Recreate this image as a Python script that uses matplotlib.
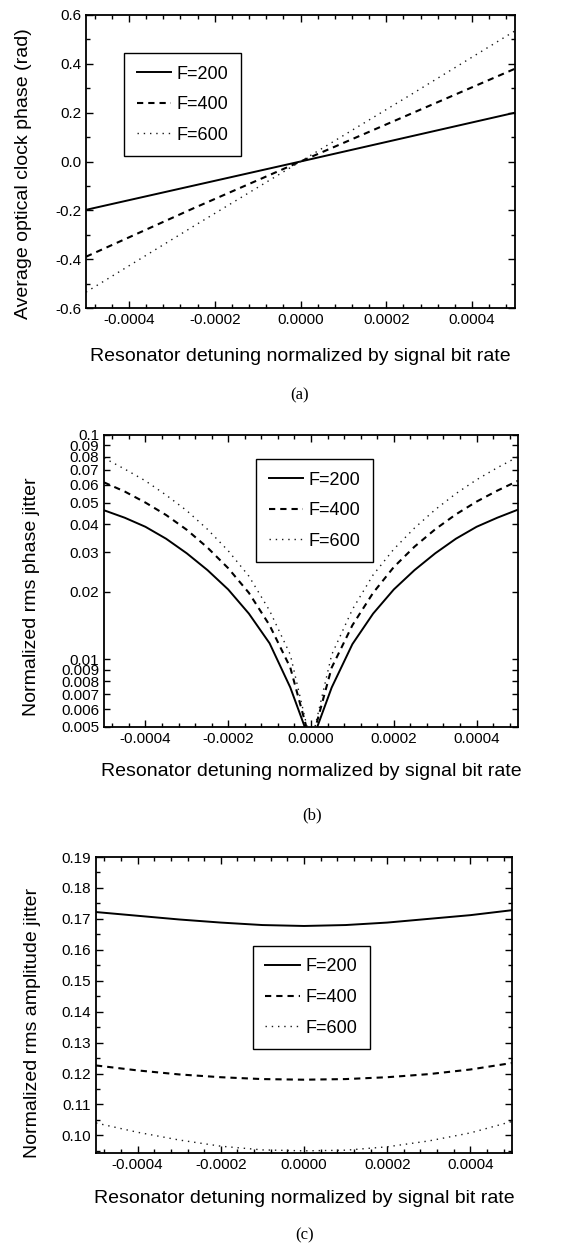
import matplotlib
matplotlib.use("Agg")
import matplotlib.pyplot as plt
from matplotlib.ticker import MultipleLocator, FixedLocator, FixedFormatter, NullFormatter

plt.rcParams['font.family'] = ['Liberation Sans', 'DejaVu Sans']

# ---------------- data ----------------
labels = ["F=200", "F=400", "F=600"]

# (a) average optical clock phase (rad)
xa = [-0.0005, -0.00025, 0.0, 0.00025, 0.0005]
a_f200 = [-0.198, -0.099, 0.0, 0.100, 0.200]
a_f400 = [-0.390, -0.192, 0.0, 0.190, 0.380]
a_f600 = [-0.535, -0.266, 0.0, 0.266, 0.535]

# (b) normalized rms phase jitter (log scale)
xb = [-0.0005, -0.00045, -0.0004, -0.00035, -0.0003, -0.00025, -0.0002, -0.00015,
      -0.0001, -0.00005, 0.0, 0.00005, 0.0001, 0.00015, 0.0002, 0.00025,
      0.0003, 0.00035, 0.0004, 0.00045, 0.0005]
b_f200 = [0.0462, 0.0428, 0.0390, 0.0345, 0.0297, 0.0250, 0.0205, 0.0160,
          0.0118, 0.0075, 0.0042, 0.0075, 0.0117, 0.0160, 0.0205, 0.0250,
          0.0297, 0.0345, 0.0390, 0.0428, 0.0465]
b_f400 = [0.0615, 0.0560, 0.0500, 0.0440, 0.0378, 0.0315, 0.0255, 0.0198,
          0.0142, 0.0092, 0.0042, 0.0092, 0.0142, 0.0198, 0.0258, 0.0318,
          0.0380, 0.0443, 0.0505, 0.0565, 0.0625]
b_f600 = [0.0790, 0.0705, 0.0625, 0.0540, 0.0460, 0.0380, 0.0305, 0.0235,
          0.0165, 0.0105, 0.0042, 0.0105, 0.0167, 0.0238, 0.0310, 0.0385,
          0.0465, 0.0548, 0.0632, 0.0715, 0.0800]
b_ticks = [0.005, 0.006, 0.007, 0.008, 0.009, 0.01, 0.02, 0.03, 0.04, 0.05,
           0.06, 0.07, 0.08, 0.09, 0.1]
b_ticklabels = ["0.005", "0.006", "0.007", "0.008", "0.009", "0.01", "0.02", "0.03",
                "0.04", "0.05", "0.06", "0.07", "0.08", "0.09", "0.1"]

# (c) normalized rms amplitude jitter
xc = [-0.0005, -0.0004, -0.0003, -0.0002, -0.0001, 0.0, 0.0001, 0.0002,
      0.0003, 0.0004, 0.0005]
c_f200 = [0.1722, 0.1710, 0.1698, 0.1688, 0.1680, 0.1677, 0.1680, 0.1688,
          0.1700, 0.1712, 0.1728]
c_f400 = [0.1226, 0.1210, 0.1197, 0.1188, 0.1182, 0.1180, 0.1182, 0.1188,
          0.1198, 0.1213, 0.1234]
c_f600 = [0.1040, 0.1010, 0.0985, 0.0965, 0.0953, 0.0950, 0.0952, 0.0963,
          0.0982, 0.1008, 0.1045]
c_ticks = [0.10, 0.11, 0.12, 0.13, 0.14, 0.15, 0.16, 0.17, 0.18, 0.19]

xticks = [-0.0004, -0.0002, 0.0, 0.0002, 0.0004]
xticklabels = ["-0.0004", "-0.0002", "0.0000", "0.0002", "0.0004"]

xlabel = "Resonator detuning normalized by signal bit rate"
ylabels = ["Average optical clock phase (rad)",
           "Normalized rms phase jitter",
           "Normalized rms amplitude jitter"]
panel_tags = ["(a)", "(b)", "(c)"]

# ---------------- styles ----------------
styles = [dict(color='black', lw=1.4, ls='-'),
          dict(color='black', lw=1.5, ls=(0, (3, 2.4))),
          dict(color='#1a1a1a', lw=1.0, ls=(0, (1, 3.5)))]

W, H = 570, 1252
fig = plt.figure(figsize=(W / 100, H / 100), dpi=100)


def px_axes(l, r, t, b):
    return fig.add_axes([l / W, 1 - b / H, (r - l) / W, (b - t) / H])


ax_a = px_axes(86, 515, 15, 308)
ax_b = px_axes(104, 518, 435, 727)
ax_c = px_axes(96, 512, 857, 1153)

tick_fs = 11
label_fs = 14
leg_fs = 13
leg_kw = dict(loc='upper left', fontsize=leg_fs, fancybox=False, framealpha=1,
              edgecolor='black', handlelength=1.9, handletextpad=0.3,
              labelspacing=0.75, borderpad=0.7, borderaxespad=0.0)


def common(ax):
    ax.set_xlim(-0.0005, 0.0005)
    ax.xaxis.set_major_locator(FixedLocator(xticks))
    ax.xaxis.set_major_formatter(FixedFormatter(xticklabels))
    ax.xaxis.set_minor_locator(MultipleLocator(0.00004))
    ax.tick_params(which='both', direction='in', top=True, right=True,
                   labelsize=tick_fs, width=1.0)
    ax.tick_params(which='major', length=5)
    ax.tick_params(which='minor', length=3)
    for s in ax.spines.values():
        s.set_linewidth(1.3)
    ax.set_xlabel(xlabel, fontsize=label_fs)


# (a)
for ys, lab, st in zip([a_f200, a_f400, a_f600], labels, styles):
    ax_a.plot(xa, ys, label=lab, **st)
common(ax_a)
ax_a.set_ylim(-0.6, 0.6)
ax_a.yaxis.set_major_locator(MultipleLocator(0.2))
ax_a.yaxis.set_minor_locator(MultipleLocator(0.1))
ax_a.yaxis.set_major_formatter(plt.FuncFormatter(lambda v, p: f"{v:.1f}"))
ax_a.set_ylabel(ylabels[0], fontsize=label_fs)
ax_a.xaxis.set_label_coords(0.5, -0.135)
ax_a.yaxis.set_label_coords(-0.125, 0.46)
ax_a.legend(bbox_to_anchor=(0.089, 0.87), **leg_kw).get_frame().set_linewidth(1.0)

# (b)
for ys, lab, st in zip([b_f200, b_f400, b_f600], labels, styles):
    ax_b.plot(xb, ys, label=lab, **st)
common(ax_b)
ax_b.set_yscale('log')
ax_b.set_ylim(0.005, 0.1)
ax_b.yaxis.set_major_locator(FixedLocator(b_ticks))
ax_b.yaxis.set_major_formatter(FixedFormatter(b_ticklabels))
ax_b.yaxis.set_minor_locator(FixedLocator([]))
ax_b.yaxis.set_minor_formatter(NullFormatter())
ax_b.tick_params(axis='y', which='major', length=4, labelsize=tick_fs)
ax_b.set_ylabel(ylabels[1], fontsize=label_fs)
ax_b.xaxis.set_label_coords(0.5, -0.125)
ax_b.yaxis.set_label_coords(-0.155, 0.445)
ax_b.legend(bbox_to_anchor=(0.367, 0.918), **leg_kw).get_frame().set_linewidth(1.0)

# (c)
for ys, lab, st in zip([c_f200, c_f400, c_f600], labels, styles):
    ax_c.plot(xc, ys, label=lab, **st)
common(ax_c)
ax_c.set_ylim(0.0943, 0.19)
ax_c.yaxis.set_major_locator(FixedLocator(c_ticks))
ax_c.yaxis.set_minor_locator(MultipleLocator(0.005))
ax_c.yaxis.set_major_formatter(plt.FuncFormatter(lambda v, p: f"{v:.2f}"))
ax_c.set_ylabel(ylabels[2], fontsize=label_fs)
ax_c.xaxis.set_label_coords(0.5, -0.125)
ax_c.yaxis.set_label_coords(-0.132, 0.44)
ax_c.legend(bbox_to_anchor=(0.377, 0.70), **leg_kw).get_frame().set_linewidth(1.0)

# panel tags
for tag, (xp, yp) in zip(panel_tags, [(300, 395), (312, 815), (305, 1235)]):
    fig.text(xp / W, 1 - yp / H, tag, ha='center', va='center', fontsize=12,
             family=['Liberation Serif', 'DejaVu Serif'])

fig.savefig("out.png", dpi=100)
